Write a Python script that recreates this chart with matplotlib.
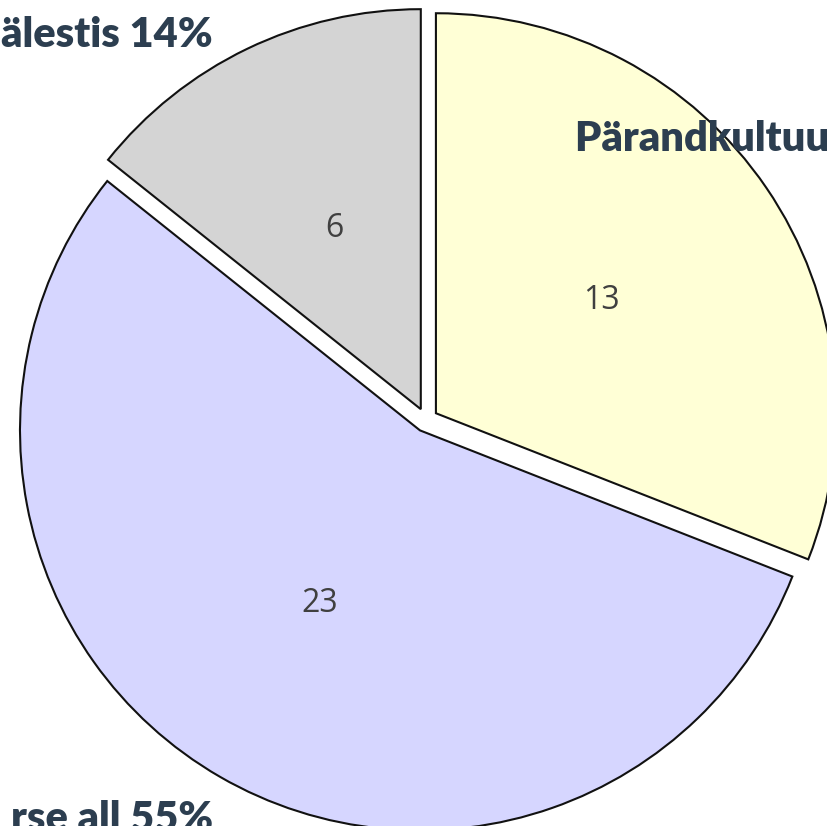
import matplotlib
matplotlib.use('Agg')
import matplotlib.pyplot as plt

# data
values = [13, 23, 6]
colors = ['#ffffd6', '#d6d6ff', '#d4d4d4']
outer_labels = ['Pärandkultuur 31%', 'rse all 55%', 'älestis 14%']
total = sum(values)

W, H = 827, 826
fig = plt.figure(figsize=(W / 100, H / 100), dpi=100)
ax = fig.add_axes([0, 0, 1, 1])

# pie in pixel-like data coords (y up)
wedges, texts, autotexts = ax.pie(
    values, colors=colors, startangle=90, counterclock=False,
    center=(426, H - 420), radius=400, explode=[12, 12, 12],
    autopct=lambda p: '%d' % round(p * total / 100), pctdistance=0.5,
    wedgeprops=dict(edgecolor='#111111', linewidth=1.5),
    textprops=dict(fontsize=23, color='#404040', family='Open Sans'))

ax.set_xlim(0, W)
ax.set_ylim(0, H)
ax.set_aspect('equal')
ax.axis('off')

lab_style = dict(fontsize=30, fontweight='heavy', color='#2c3e50', family='Lato')
ax.text(575, H - 151, outer_labels[0], ha='left', va='baseline', **lab_style)
ax.text(213, H - 831, outer_labels[1], ha='right', va='baseline', **lab_style)
ax.text(213, H - 47, outer_labels[2], ha='right', va='baseline', **lab_style)

fig.savefig('out.png', dpi=100)
